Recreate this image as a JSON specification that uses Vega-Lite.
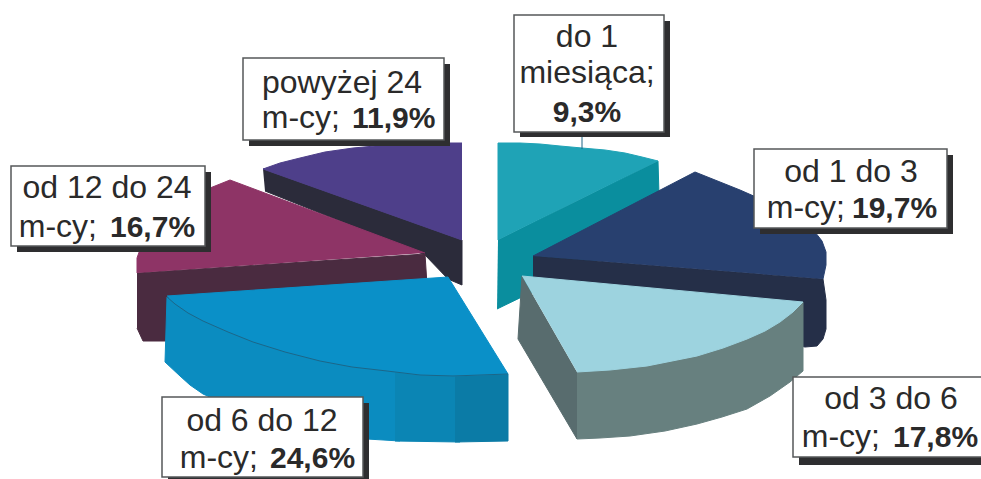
{"$schema":"https://vega.github.io/schema/vega-lite/v6.json","width":981,"height":479,"padding":0,"autosize":"none","background":"#ffffff","config":{"view":{"stroke":null}},
"datasets":{
"shapes":[
{"part":"do 1 bok","i":1,"x":498,"y":240},{"part":"do 1 bok","i":2,"x":658,"y":161},{"part":"do 1 bok","i":3,"x":660,"y":230},{"part":"do 1 bok","i":4,"x":497,"y":309},
{"part":"do 1 wierzch","i":1,"x":498,"y":240},{"part":"do 1 wierzch","i":2,"x":498,"y":143},{"part":"do 1 wierzch","i":3,"x":520,"y":143},{"part":"do 1 wierzch","i":4,"x":540,"y":144},{"part":"do 1 wierzch","i":5,"x":560,"y":146},{"part":"do 1 wierzch","i":6,"x":582,"y":148},{"part":"do 1 wierzch","i":7,"x":605,"y":150},{"part":"do 1 wierzch","i":8,"x":625,"y":153},{"part":"do 1 wierzch","i":9,"x":642,"y":157},{"part":"do 1 wierzch","i":10,"x":658,"y":161},
{"part":"1-3 bok","i":1,"x":533,"y":256},{"part":"1-3 bok","i":2,"x":823,"y":279},{"part":"1-3 bok","i":3,"x":826,"y":300},{"part":"1-3 bok","i":4,"x":826,"y":329},{"part":"1-3 bok","i":5,"x":823,"y":339},{"part":"1-3 bok","i":6,"x":817,"y":346},{"part":"1-3 bok","i":7,"x":805,"y":347},{"part":"1-3 bok","i":8,"x":533,"y":295},
{"part":"1-3 wierzch","i":1,"x":533,"y":256},{"part":"1-3 wierzch","i":2,"x":695,"y":172},{"part":"1-3 wierzch","i":3,"x":740,"y":190},{"part":"1-3 wierzch","i":4,"x":790,"y":212},{"part":"1-3 wierzch","i":5,"x":805,"y":222},{"part":"1-3 wierzch","i":6,"x":815,"y":232},{"part":"1-3 wierzch","i":7,"x":822,"y":241},{"part":"1-3 wierzch","i":8,"x":826,"y":252},{"part":"1-3 wierzch","i":9,"x":826,"y":265},{"part":"1-3 wierzch","i":10,"x":823,"y":279},
{"part":"3-6 lewy","i":1,"x":522,"y":276},{"part":"3-6 lewy","i":2,"x":518,"y":339},{"part":"3-6 lewy","i":3,"x":577,"y":439},{"part":"3-6 lewy","i":4,"x":577,"y":372},
{"part":"3-6 front","i":1,"x":577,"y":372},{"part":"3-6 front","i":2,"x":647,"y":366},{"part":"3-6 front","i":3,"x":697,"y":356},{"part":"3-6 front","i":4,"x":747,"y":339},{"part":"3-6 front","i":5,"x":780,"y":322},{"part":"3-6 front","i":6,"x":803,"y":302},{"part":"3-6 front","i":7,"x":803,"y":371},{"part":"3-6 front","i":8,"x":790,"y":382},{"part":"3-6 front","i":9,"x":770,"y":396},{"part":"3-6 front","i":10,"x":747,"y":409},{"part":"3-6 front","i":11,"x":722,"y":417},{"part":"3-6 front","i":12,"x":697,"y":424},{"part":"3-6 front","i":13,"x":665,"y":431},{"part":"3-6 front","i":14,"x":630,"y":436},{"part":"3-6 front","i":15,"x":600,"y":438},{"part":"3-6 front","i":16,"x":577,"y":439},
{"part":"3-6 wierzch","i":1,"x":522,"y":276},{"part":"3-6 wierzch","i":2,"x":803,"y":302},{"part":"3-6 wierzch","i":3,"x":793,"y":312},{"part":"3-6 wierzch","i":4,"x":780,"y":322},{"part":"3-6 wierzch","i":5,"x":765,"y":331},{"part":"3-6 wierzch","i":6,"x":747,"y":339},{"part":"3-6 wierzch","i":7,"x":723,"y":348},{"part":"3-6 wierzch","i":8,"x":697,"y":356},{"part":"3-6 wierzch","i":9,"x":672,"y":361},{"part":"3-6 wierzch","i":10,"x":647,"y":366},{"part":"3-6 wierzch","i":11,"x":610,"y":370},{"part":"3-6 wierzch","i":12,"x":577,"y":372},
{"part":"24+ bok","i":1,"x":263,"y":169},{"part":"24+ bok","i":2,"x":462,"y":240},{"part":"24+ bok","i":3,"x":462,"y":285},{"part":"24+ bok","i":4,"x":448,"y":279},{"part":"24+ bok","i":5,"x":425,"y":255},{"part":"24+ bok","i":6,"x":265,"y":191},
{"part":"24+ wierzch","i":1,"x":462,"y":143},{"part":"24+ wierzch","i":2,"x":430,"y":143},{"part":"24+ wierzch","i":3,"x":400,"y":144},{"part":"24+ wierzch","i":4,"x":375,"y":146},{"part":"24+ wierzch","i":5,"x":353,"y":148},{"part":"24+ wierzch","i":6,"x":325,"y":152},{"part":"24+ wierzch","i":7,"x":300,"y":158},{"part":"24+ wierzch","i":8,"x":280,"y":163},{"part":"24+ wierzch","i":9,"x":263,"y":169},{"part":"24+ wierzch","i":10,"x":462,"y":240},
{"part":"12-24 bok","i":1,"x":137,"y":273},{"part":"12-24 bok","i":2,"x":425,"y":254},{"part":"12-24 bok","i":3,"x":427,"y":285},{"part":"12-24 bok","i":4,"x":165,"y":341},{"part":"12-24 bok","i":5,"x":143,"y":341},{"part":"12-24 bok","i":6,"x":137,"y":328},
{"part":"12-24 wierzch","i":1,"x":425,"y":253},{"part":"12-24 wierzch","i":2,"x":230,"y":180},{"part":"12-24 wierzch","i":3,"x":210,"y":188},{"part":"12-24 wierzch","i":4,"x":190,"y":197},{"part":"12-24 wierzch","i":5,"x":168,"y":213},{"part":"12-24 wierzch","i":6,"x":150,"y":230},{"part":"12-24 wierzch","i":7,"x":142,"y":244},{"part":"12-24 wierzch","i":8,"x":137,"y":258},{"part":"12-24 wierzch","i":9,"x":137,"y":273},
{"part":"6-12 bok","i":1,"x":167,"y":297},{"part":"6-12 bok","i":2,"x":165,"y":362},{"part":"6-12 bok","i":3,"x":180,"y":376},{"part":"6-12 bok","i":4,"x":190,"y":385},{"part":"6-12 bok","i":5,"x":203,"y":394},{"part":"6-12 bok","i":6,"x":250,"y":415},{"part":"6-12 bok","i":7,"x":367,"y":439},{"part":"6-12 bok","i":8,"x":400,"y":441},{"part":"6-12 bok","i":9,"x":400,"y":372},
{"part":"6-12 srodek","i":1,"x":395,"y":372},{"part":"6-12 srodek","i":2,"x":460,"y":376},{"part":"6-12 srodek","i":3,"x":460,"y":442},{"part":"6-12 srodek","i":4,"x":395,"y":441},
{"part":"6-12 front","i":1,"x":455,"y":376},{"part":"6-12 front","i":2,"x":508,"y":374},{"part":"6-12 front","i":3,"x":508,"y":441},{"part":"6-12 front","i":4,"x":455,"y":442},
{"part":"6-12 wierzch","i":1,"x":167,"y":296},{"part":"6-12 wierzch","i":2,"x":448,"y":277},{"part":"6-12 wierzch","i":3,"x":508,"y":374},{"part":"6-12 wierzch","i":4,"x":453,"y":376},{"part":"6-12 wierzch","i":5,"x":420,"y":375},{"part":"6-12 wierzch","i":6,"x":387,"y":371},{"part":"6-12 wierzch","i":7,"x":352,"y":367},{"part":"6-12 wierzch","i":8,"x":320,"y":361},{"part":"6-12 wierzch","i":9,"x":285,"y":352},{"part":"6-12 wierzch","i":10,"x":253,"y":342},{"part":"6-12 wierzch","i":11,"x":228,"y":332},{"part":"6-12 wierzch","i":12,"x":203,"y":321},{"part":"6-12 wierzch","i":13,"x":188,"y":313},{"part":"6-12 wierzch","i":14,"x":175,"y":304}
],
"edges":[
{"part":"luk","i":1,"x":167,"y":297},{"part":"luk","i":2,"x":175,"y":304},{"part":"luk","i":3,"x":188,"y":313},{"part":"luk","i":4,"x":203,"y":321},{"part":"luk","i":5,"x":228,"y":332},{"part":"luk","i":6,"x":253,"y":342},{"part":"luk","i":7,"x":285,"y":352},{"part":"luk","i":8,"x":320,"y":361},{"part":"luk","i":9,"x":352,"y":367},{"part":"luk","i":10,"x":387,"y":371},{"part":"luk","i":11,"x":420,"y":375},{"part":"luk","i":12,"x":453,"y":376},{"part":"luk","i":13,"x":508,"y":374},
{"part":"wskaznik","i":1,"x":582,"y":132},{"part":"wskaznik","i":2,"x":582,"y":149}
],
"boxes":[
{"label":"do 1 miesiąca","x":514,"x2":664,"y":15,"y2":132,"sx":520,"sx2":670,"sy":21,"sy2":137},
{"label":"od 1 do 3 m-cy","x":754,"x2":947,"y":149,"y2":228,"sx":760,"sx2":953,"sy":155,"sy2":234},
{"label":"od 3 do 6 m-cy","x":793,"x2":985,"y":377,"y2":457,"sx":799,"sx2":991,"sy":383,"sy2":465},
{"label":"od 6 do 12 m-cy","x":162,"x2":363,"y":397,"y2":477,"sx":168,"sx2":369,"sy":403,"sy2":483},
{"label":"od 12 do 24 m-cy","x":11,"x2":205,"y":166,"y2":246,"sx":17,"sx2":211,"sy":172,"sy2":252},
{"label":"powyżej 24 m-cy","x":243,"x2":444,"y":58,"y2":140,"sx":249,"sx2":450,"sy":64,"sy2":146}
],
"centered":[
{"text":"do 1","x":587,"y":47},{"text":"miesiąca;","x":587,"y":83},{"text":"od 1 do 3","x":851,"y":182},{"text":"od 3 do 6","x":891,"y":409},{"text":"od 6 do 12","x":262,"y":431},{"text":"od 12 do 24","x":107,"y":198},{"text":"powyżej 24","x":342,"y":93}
],
"unit":[
{"text":"m-cy;","x":845,"y":218},{"text":"m-cy;","x":880,"y":447},{"text":"m-cy;","x":258,"y":468},{"text":"m-cy;","x":97,"y":237},{"text":"m-cy;","x":340,"y":128}
],
"share":[
{"category":"od 1 do 3 m-cy","text":"19,7%","x":852,"y":218},{"category":"od 3 do 6 m-cy","text":"17,8%","x":893,"y":447},{"category":"od 6 do 12 m-cy","text":"24,6%","x":270,"y":468},{"category":"od 12 do 24 m-cy","text":"16,7%","x":110,"y":237},{"category":"powyżej 24 m-cy","text":"11,9%","x":352,"y":128}
],
"share1":[{"category":"do 1 miesiąca","text":"9,3%","x":587,"y":122}]
},
"encoding":{
"x":{"field":"x","type":"quantitative","axis":null,"scale":{"domain":[0,981],"nice":false,"zero":false}},
"y":{"field":"y","type":"quantitative","axis":null,"scale":{"domain":[479,0],"nice":false,"zero":false}}
},
"layer":[
{"data":{"name":"shapes"},"mark":{"type":"line","filled":true,"strokeWidth":1,"clip":true},
"encoding":{"detail":{"field":"part"},"order":{"field":"i","type":"quantitative"},
"fill":{"field":"part","type":"nominal","legend":null,"sort":null,"scale":{"domain":["do 1 bok","do 1 wierzch","1-3 bok","1-3 wierzch","3-6 lewy","3-6 front","3-6 wierzch","24+ bok","24+ wierzch","12-24 bok","12-24 wierzch","6-12 bok","6-12 srodek","6-12 front","6-12 wierzch"],"range":["#0a8e9e","#1fa3b6","#252f48","#28406f","#586c6e","#67807f","#9dd3df","#2b2b3a","#4e3f8a","#4a2b40","#8e3466","#0b8cc0","#0b85b4","#0b7ba6","#0a90c8"]}},
"stroke":{"field":"part","type":"nominal","legend":null,"sort":null,"scale":{"domain":["do 1 bok","do 1 wierzch","1-3 bok","1-3 wierzch","3-6 lewy","3-6 front","3-6 wierzch","24+ bok","24+ wierzch","12-24 bok","12-24 wierzch","6-12 bok","6-12 srodek","6-12 front","6-12 wierzch"],"range":["#0a8e9e","#1fa3b6","#252f48","#28406f","#586c6e","#67807f","#9dd3df","#2b2b3a","#4e3f8a","#4a2b40","#8e3466","#0b8cc0","#0b85b4","#0b7ba6","#0a90c8"]}}}},
{"data":{"name":"edges"},"mark":{"type":"line","stroke":"#1c6688","strokeWidth":1},"encoding":{"detail":{"field":"part"},"order":{"field":"i","type":"quantitative"}}},
{"data":{"name":"boxes"},"mark":{"type":"rect","fill":"#2e2e30","clip":true},"encoding":{"x":{"field":"sx","type":"quantitative","axis":null},"x2":{"field":"sx2"},"y":{"field":"sy","type":"quantitative","axis":null},"y2":{"field":"sy2"}}},
{"data":{"name":"boxes"},"mark":{"type":"rect","fill":"#ffffff","stroke":"#55585a","strokeWidth":1.5,"clip":true},"encoding":{"x":{"field":"x","type":"quantitative","axis":null},"x2":{"field":"x2"},"y":{"field":"y","type":"quantitative","axis":null},"y2":{"field":"y2"}}},
{"data":{"name":"centered"},"mark":{"type":"text","font":"Liberation Sans","fontSize":32,"align":"center","baseline":"alphabetic","fill":"#2a2a2a"},"encoding":{"text":{"field":"text"}}},
{"data":{"name":"unit"},"mark":{"type":"text","font":"Liberation Sans","fontSize":32,"align":"right","baseline":"alphabetic","fill":"#2a2a2a"},"encoding":{"text":{"field":"text"}}},
{"data":{"name":"share"},"mark":{"type":"text","font":"Liberation Sans","fontSize":30,"fontWeight":"bold","align":"left","baseline":"alphabetic","fill":"#2a2a2a"},"encoding":{"text":{"field":"text"}}},
{"data":{"name":"share1"},"mark":{"type":"text","font":"Liberation Sans","fontSize":30,"fontWeight":"bold","align":"center","baseline":"alphabetic","fill":"#2a2a2a"},"encoding":{"text":{"field":"text"}}}
]}
